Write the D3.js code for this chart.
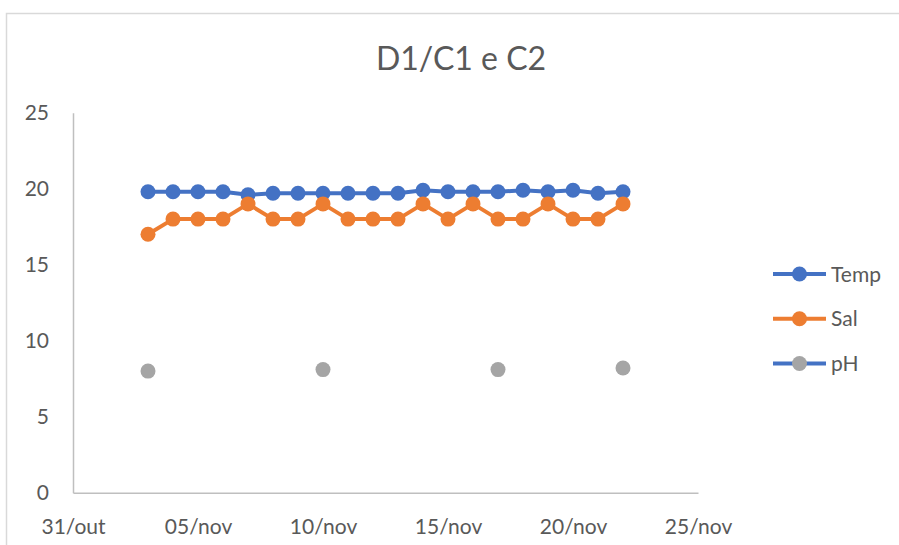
<!DOCTYPE html>
<html>
<head>
<meta charset="utf-8">
<script src="https://cdn.jsdelivr.net/npm/d3@7"></script>
<style>
  html, body { margin: 0; padding: 0; background: #ffffff; }
  svg { display: block; }
  text { font-family: Lato, "Open Sans", sans-serif; fill: #595959; }
</style>
</head>
<body>
<svg id="chart" width="899" height="545"></svg>
<script>
// Daily readings, 3 to 22 November
const dates = [
  "2021-11-03","2021-11-04","2021-11-05","2021-11-06","2021-11-07",
  "2021-11-08","2021-11-09","2021-11-10","2021-11-11","2021-11-12",
  "2021-11-13","2021-11-14","2021-11-15","2021-11-16","2021-11-17",
  "2021-11-18","2021-11-19","2021-11-20","2021-11-21","2021-11-22"
];
const temp = [19.8,19.8,19.8,19.8,19.6,19.7,19.7,19.7,19.7,19.7,
              19.7,19.9,19.8,19.8,19.8,19.9,19.8,19.9,19.7,19.8];
const sal  = [17,18,18,18,19,18,18,19,18,18,
              18,19,18,19,18,18,19,18,18,19];
// pH measured only on a few days
const phDates  = ["2021-11-03","2021-11-10","2021-11-17","2021-11-22"];
const phValues = [8.0, 8.1, 8.1, 8.2];

const seriesNames = ["Temp", "Sal", "pH"];
const xTickDates  = ["2021-10-31","2021-11-05","2021-11-10","2021-11-15","2021-11-20","2021-11-25"];
const xTickLabels = ["31/out","05/nov","10/nov","15/nov","20/nov","25/nov"];
const yTicks      = [0, 5, 10, 15, 20, 25];
const title       = "D1/C1 e C2";

const parse = d3.utcParse("%Y-%m-%d");
const colors = { Temp: "#4472C4", Sal: "#ED7D31", pH: "#A5A5A5" };

const svg = d3.select("#chart");

// chart frame
svg.append("rect")
  .attr("x", 6.5).attr("y", 13.5)
  .attr("width", 920).attr("height", 560)
  .attr("fill", "#ffffff")
  .attr("stroke", "#d9d9d9").attr("stroke-width", 1.5);

const x = d3.scaleUtc()
  .domain([parse(xTickDates[0]), parse(xTickDates[xTickDates.length - 1])])
  .range([73, 698]);
const y = d3.scaleLinear().domain([0, 25]).range([492.7, 112.7]);

// title
svg.append("text")
  .attr("x", 461).attr("y", 69.5)
  .attr("text-anchor", "middle")
  .style("font-size", "32px")
  .text(title);

// y axis
const yAxis = svg.append("g")
  .attr("transform", "translate(73,0)")
  .call(d3.axisLeft(y).tickValues(yTicks).tickSize(0).tickPadding(24));
yAxis.select(".domain").attr("stroke", "#bfbfbf").attr("stroke-width", 1.5);
yAxis.selectAll("text").style("font-size", "21px").attr("fill", "#595959");

// x axis
const labelOf = new Map(xTickDates.map((d, i) => [+parse(d), xTickLabels[i]]));
const xAxis = svg.append("g")
  .attr("transform", `translate(0,${y(0)})`)
  .call(d3.axisBottom(x)
    .tickValues(xTickDates.map(parse))
    .tickSize(0).tickPadding(26)
    .tickFormat(d => labelOf.get(+d)));
xAxis.select(".domain").attr("stroke", "#bfbfbf").attr("stroke-width", 1.5);
xAxis.selectAll("text").style("font-size", "21px").attr("fill", "#595959");

// lines with markers
const line = d3.line().x(d => x(d.date)).y(d => y(d.value));
const r = 7.5;

function drawSeries(name, pts, withLine) {
  const g = svg.append("g");
  if (withLine) {
    g.append("path").datum(pts)
      .attr("d", line)
      .attr("fill", "none")
      .attr("stroke", colors[name])
      .attr("stroke-width", 4)
      .attr("stroke-linejoin", "round");
  }
  g.selectAll("circle").data(pts).join("circle")
    .attr("cx", d => x(d.date)).attr("cy", d => y(d.value))
    .attr("r", r).attr("fill", colors[name]);
}

drawSeries("Temp", dates.map((d, i) => ({ date: parse(d), value: temp[i] })), true);
drawSeries("Sal",  dates.map((d, i) => ({ date: parse(d), value: sal[i] })), true);
drawSeries("pH",   phDates.map((d, i) => ({ date: parse(d), value: phValues[i] })), false);

// legend
const legendY = d3.scalePoint().domain(seriesNames).range([274, 363.5]);
const legendLine = { Temp: colors.Temp, Sal: colors.Sal, pH: colors.Temp };
const lg = svg.append("g");
seriesNames.forEach(name => {
  const ly = legendY(name);
  lg.append("line")
    .attr("x1", 773).attr("x2", 826).attr("y1", ly).attr("y2", ly)
    .attr("stroke", legendLine[name]).attr("stroke-width", 4);
  lg.append("circle")
    .attr("cx", 799.5).attr("cy", ly).attr("r", r)
    .attr("fill", colors[name]);
  lg.append("text")
    .attr("x", 831).attr("y", ly)
    .attr("dy", "0.36em")
    .style("font-size", "21px")
    .text(name);
});
</script>
</body>
</html>
